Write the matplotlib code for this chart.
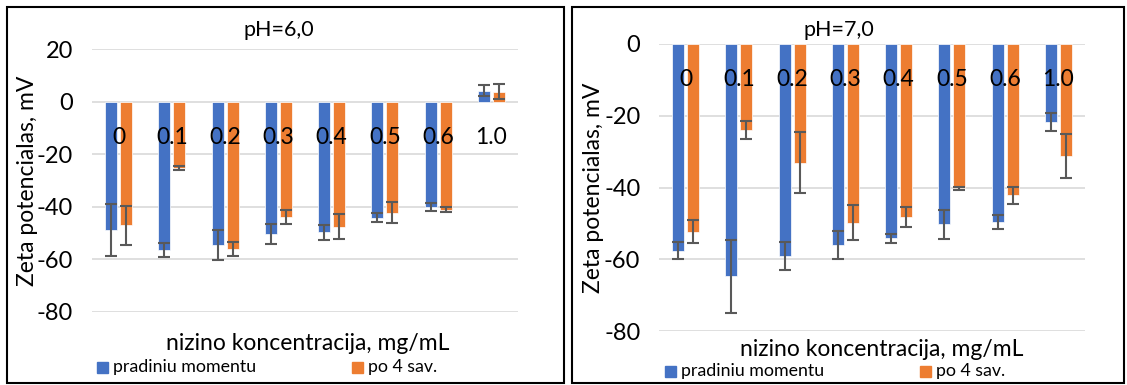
import numpy as np
import matplotlib.pyplot as plt
from matplotlib.patches import Rectangle

plt.rcParams['font.family'] = ['Lato', 'DejaVu Sans']

# Data
categories = ["0", "0.1", "0.2", "0.3", "0.4", "0.5", "0.6", "1.0"]

ph6_start = [-48.9, -56.3, -54.6, -50.3, -49.7, -44.2, -40.0, 4.2]
ph6_start_err = [9.8, 2.7, 5.8, 3.7, 2.8, 1.7, 1.6, 2.0]
ph6_4w = [-47.1, -25.3, -56.0, -43.9, -47.6, -42.2, -41.1, 3.8]
ph6_4w_err = [7.4, 0.8, 2.6, 2.7, 4.8, 4.0, 1.0, 2.8]

ph7_start = [-57.6, -64.7, -59.1, -56.0, -54.2, -50.3, -49.7, -21.7]
ph7_start_err = [2.4, 10.2, 4.0, 3.8, 1.2, 4.1, 2.0, 2.5]
ph7_4w = [-52.3, -23.9, -33.1, -49.8, -48.2, -40.2, -42.2, -31.3]
ph7_4w_err = [3.3, 2.5, 8.5, 4.8, 2.9, 0.4, 2.4, 6.1]

series_names = ["pradiniu momentu", "po 4 sav."]
blue = "#4472C4"
orange = "#ED7D31"
errc = "#595959"

W, H = 1127, 385
fig = plt.figure(figsize=(W / 100, H / 100), dpi=100)


def px(x0, y0, x1, y1):
    # pixel box -> figure fraction rect
    return [x0 / W, 1 - y1 / H, (x1 - x0) / W, (y1 - y0) / H]


def panel(rect, start, start_err, later, later_err, ylim, yticks):
    ax = fig.add_axes(rect)
    x = np.arange(len(categories))
    w = 0.225
    ekw = dict(ecolor=errc, elinewidth=1.5, capthick=1.5, capsize=4.3)
    ax.bar(x - 0.143, start, w, yerr=start_err, color=blue,
           edgecolor="white", linewidth=0.5, error_kw=ekw, zorder=2)
    ax.bar(x + 0.143, later, w, yerr=later_err, color=orange,
           edgecolor="white", linewidth=0.5, error_kw=ekw, zorder=2)
    ax.set_xlim(-0.5, len(categories) - 0.5)
    ax.set_ylim(*ylim)
    ax.set_yticks(yticks)
    ax.set_yticklabels([str(t) for t in yticks], fontsize=17)
    ax.tick_params(axis="y", length=0, pad=13.5)
    ax.set_xticks([])
    ax.grid(axis="y", color="#D9D9D9", linewidth=1.2, zorder=0)
    for s in ax.spines.values():
        s.set_visible(False)
    for xi, lab in zip(x, categories):
        ax.annotate(lab, (xi, 0), xytext=(0, -25.5), textcoords="offset points",
                    ha="center", va="center", fontsize=16.5, zorder=3)
    return ax


panel(px(92, 49, 518, 312), ph6_start, ph6_start_err, ph6_4w, ph6_4w_err,
      (-80, 20), [20, 0, -20, -40, -60, -80])
panel(px(659, 44, 1085, 331), ph7_start, ph7_start_err, ph7_4w, ph7_4w_err,
      (-80, 0), [0, -20, -40, -60, -80])

# titles, axis labels, legends
fig.text(279 / W, 1 - 30 / H, "pH=6,0", ha="center", va="center", fontsize=15.5)
fig.text(839 / W, 1 - 30 / H, "pH=7,0", ha="center", va="center", fontsize=15.5)
for xl, yc in [(28, 181), (593, 188)]:
    fig.text(xl / W, 1 - yc / H, "Zeta potencialas, mV", rotation=90,
             ha="center", va="center", fontsize=16.5)
fig.text(308 / W, 1 - 343 / H, "nizino koncentracija, mg/mL", ha="center",
         va="center", fontsize=16.5)
fig.text(882 / W, 1 - 349 / H, "nizino koncentracija, mg/mL", ha="center",
         va="center", fontsize=16.5)

legend_pos = [((97, 367), (352, 367)), ((665, 371), (920, 371))]
for (b, o) in legend_pos:
    for (lx, ly), col, name in [(b, blue, series_names[0]), (o, orange, series_names[1])]:
        fig.patches.append(Rectangle((lx / W, 1 - (ly + 5.5) / H), 11 / W, 11 / H,
                                     transform=fig.transFigure, color=col))
        fig.text((lx + 16) / W, 1 - ly / H, name, ha="left", va="center",
                 fontsize=12.8)

# panel borders
for x0, x1 in [(7, 564), (572, 1124)]:
    fig.patches.append(Rectangle((x0 / W, 1 - 383 / H), (x1 - x0) / W, 376 / H,
                                 transform=fig.transFigure, fill=False,
                                 edgecolor="black", linewidth=1.5))

fig.savefig("out.png", dpi=100)
